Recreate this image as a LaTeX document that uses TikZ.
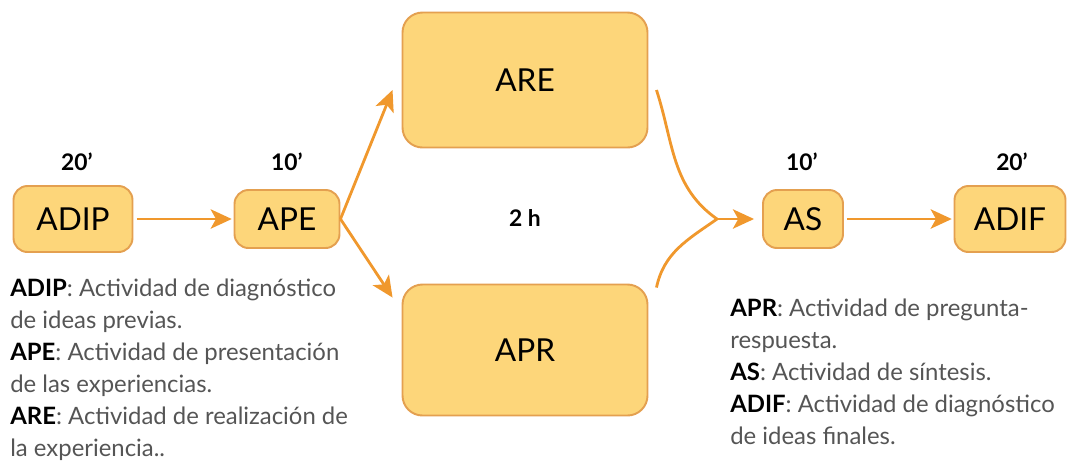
\documentclass[tikz,border=0pt]{standalone}
\usepackage{fontspec}
\setmainfont{Lato}
\usetikzlibrary{arrows.meta,calc}

\definecolor{cajafondo}{RGB}{253,214,122}
\definecolor{cajaborde}{RGB}{228,160,80}
\definecolor{flechacolor}{RGB}{240,152,45}
\definecolor{textogris}{RGB}{85,85,85}

\newdimen\pxu \pxu=0.02cm
\newcommand{\abrev}[1]{\textbf{\textcolor{black}{#1}}}

\tikzset{
  caja/.style={draw=cajaborde, fill=cajafondo, line width=1.1pt, rounded corners=14\pxu,
    inner sep=0pt, font=\fontsize{18}{20}\selectfont},
  cajagrande/.style={caja, rounded corners=20\pxu, minimum width=245\pxu},
  flecha/.style={draw=flechacolor, line width=1.6pt,
    -{Stealth[length=12pt,width=11pt,inset=3pt]}},
  tiempo/.style={font=\bfseries\fontsize{13}{15}\selectfont},
  leyenda/.style={anchor=north west, align=left, inner sep=0pt, text=textogris,
    font=\fontsize{13.6}{18.2}\selectfont}
}

\begin{document}
\begin{tikzpicture}[x=0.02cm,y=-0.02cm]
  \useasboundingbox (0,0) rectangle (1071,464);

  % cajas
  \node[caja, minimum width=119\pxu, minimum height=66\pxu] (ADIP) at (73,219) {ADIP};
  \node[caja, minimum width=105\pxu, minimum height=58\pxu] (APE) at (287,219) {APE};
  \node[cajagrande, minimum height=135\pxu] (ARE) at (525,80) {ARE};
  \node[cajagrande, minimum height=131\pxu] (APR) at (525,350) {APR};
  \node[caja, minimum width=80\pxu, minimum height=58\pxu] (AS) at (803,219) {AS};
  \node[caja, minimum width=111\pxu, minimum height=66\pxu] (ADIF) at (1010,219) {ADIF};

  % tiempos
  \node[tiempo] (tADIP) at (77,162) {20'};
  \node[tiempo] (tAPE) at (287,162) {10'};
  \node[tiempo] (tAS) at (802,162) {10'};
  \node[tiempo] (tADIF) at (1012,162) {20'};
  \node[tiempo] (tcentro) at (525,218) {2 h};

  % flechas
  \draw[flecha, shorten <=2pt, shorten >=1pt] (ADIP) -- (APE);
  \draw[flecha] (APE.east) -- ([xshift=-9\pxu,yshift=-10\pxu]ARE.west);
  \draw[flecha] (APE.east) -- ([xshift=-9\pxu,yshift=-14\pxu]APR.north west);
  \coordinate (union) at ($(AS.west)+(-45,0)$);
  \draw[flecha, -] ([xshift=8\pxu,yshift=-10\pxu]ARE.east) to[out=-72,in=145] (union);
  \draw[flecha, -] ([xshift=8\pxu,yshift=-4\pxu]APR.north east) to[out=78,in=215] (union);
  \draw[flecha, shorten >=8\pxu] (union) -- (AS.west);
  \draw[flecha, shorten <=2pt, shorten >=1pt] (AS) -- (ADIF);

  % leyendas
  \node[leyenda] (leyIzq) at (10,279) {\abrev{ADIP}: Actividad de diagnóstico\\
    de ideas previas.\\
    \abrev{APE}: Actividad de presentación\\
    de las experiencias.\\
    \abrev{ARE}: Actividad de realización de\\
    la experiencia..};
  \node[leyenda] (leyDer) at (730,299) {\abrev{APR}: Actividad de pregunta-\\
    respuesta.\\
    \abrev{AS}: Actividad de síntesis.\\
    \abrev{ADIF}: Actividad de diagnóstico\\
    de ideas finales.};
\end{tikzpicture}
\end{document}
